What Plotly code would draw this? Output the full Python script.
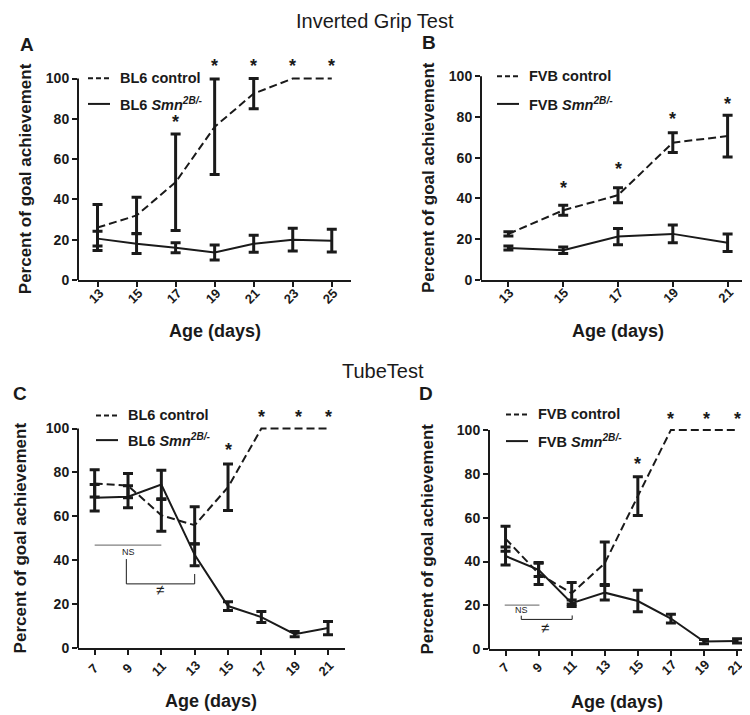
import plotly.graph_objects as go

W, H = 750, 715
FONT = "Liberation Sans, Arial, Helvetica, sans-serif"
INK = "#1a1a1a"

# ---------------- data ----------------
# A: Inverted grip test, BL6
a_days = [13, 15, 17, 19, 21, 23, 25]
a_ctrl = [26.0, 32.0, 48.5, 76.0, 92.5, 100, 100]
a_ctrl_err = [11.4, 9.0, 24.0, 23.7, 7.5, 0, 0]
a_ko = [20.5, 18.0, 16.0, 13.6, 18.0, 20.0, 19.5]
a_ko_err = [3.7, 4.9, 2.5, 3.7, 4.2, 5.7, 5.6]
a_star_x = [17, 19, 21, 23, 25]
a_star_y = [77.0, 104.7, 104.7, 104.7, 104.7]

# B: Inverted grip test, FVB
b_days = [13, 15, 17, 19, 21]
b_ctrl = [22.6, 34.2, 41.6, 67.4, 70.6]
b_ctrl_err = [1.0, 2.4, 3.7, 4.8, 10.2]
b_ko = [15.7, 14.6, 21.3, 22.6, 18.3]
b_ko_err = [1.0, 1.6, 4.0, 4.3, 4.3]
b_star_x = [15, 17, 19, 21]
b_star_y = [43.7, 53.1, 77.7, 85.0]

# C: Tube test, BL6
c_days = [7, 9, 11, 13, 15, 17, 19, 21]
c_ctrl = [75.0, 74.0, 60.5, 56.0, 73.3, 100, 100, 100]
c_ctrl_err = [6.2, 5.5, 7.2, 8.4, 10.6, 0, 0, 0]
c_ko = [68.5, 69.0, 74.5, 42.5, 19.2, 14.2, 6.4, 9.2]
c_ko_err = [6.0, 5.0, 6.5, 5.0, 2.0, 2.5, 1.2, 3.0]
c_star_x = [15, 17, 19.2, 21]
c_star_y = [88.9, 103.9, 103.9, 103.9]

# D: Tube test, FVB
d_days = [7, 9, 11, 13, 15, 17, 19, 21]
d_ctrl = [50.4, 34.5, 25.5, 39.2, 69.8, 100, 100, 100]
d_ctrl_err = [5.7, 5.0, 4.9, 9.7, 8.8, 0, 0, 0]
d_ko = [42.5, 36.2, 21.0, 25.8, 22.0, 14.0, 3.5, 3.8]
d_ko_err = [4.1, 3.0, 1.5, 3.3, 4.9, 2.0, 1.0, 1.0]
d_star_x = [15, 17, 19.15, 21]
d_star_y = [83.2, 103.5, 103.5, 103.5]

# significance brackets (C, D)
c_ns_x, c_ns_y = [7, 11], [46.9, 46.9]
c_br_x, c_br_y = [8.9, 8.9, 13, 13], [40.6, 29.3, 29.3, 33.8]
c_ns_lab = (9.0, 43.6)
c_neq_lab = (10.9, 26.6)
d_ns_x, d_ns_y = [6.95, 9.05], [20.1, 20.1]
d_br_x, d_br_y = [7.95, 7.95, 11.03, 11.03], [15.3, 13.6, 13.6, 15.4]
d_ns_lab = (7.95, 18.0)
d_neq_lab = (9.4, 9.8)

y_ticks = [0, 20, 40, 60, 80, 100]

panels = [
    dict(days=a_days, ctrl=a_ctrl, ce=a_ctrl_err, ko=a_ko, ke=a_ko_err,
         sx=a_star_x, sy=a_star_y, strain="BL6", letter="A"),
    dict(days=b_days, ctrl=b_ctrl, ce=b_ctrl_err, ko=b_ko, ke=b_ko_err,
         sx=b_star_x, sy=b_star_y, strain="FVB", letter="B"),
    dict(days=c_days, ctrl=c_ctrl, ce=c_ctrl_err, ko=c_ko, ke=c_ko_err,
         sx=c_star_x, sy=c_star_y, strain="BL6", letter="C"),
    dict(days=d_days, ctrl=d_ctrl, ce=d_ctrl_err, ko=d_ko, ke=d_ko_err,
         sx=d_star_x, sy=d_star_y, strain="FVB", letter="D"),
]

# ---------------- layout geometry (pixels) ----------------
# left px, right px, y=0 px, y=100 px, x-range
boxes = [
    (70, 343.3, 275.0, 71.3, 12, 26),
    (473, 747, 275.0, 69.0, 12, 22),
    (70, 336.7, 647.5, 425.3, 6, 22),
    (481, 736.5, 648.5, 426.7, 6, 21.45),
]
YMAX = 112
letter_pos = [(19, 37), (421, 35), (12, 390), (418, 390)]
legend_pos = [(80, 71, 97), (489, 69, 97), (88, 412, 437), (498, 411, 438)]
ytitle_x = [17, 420, 12, 420]
xtitle_y = [327, 327, 701, 702]
ticklab_dy = [16.5, 16, 20.5, 18.5]   # px below the x axis (label centre)

fig = go.Figure()
layout = dict(width=W, height=H, autosize=False,
              margin=dict(l=0, r=0, t=0, b=0),
              paper_bgcolor="white", plot_bgcolor="white",
              showlegend=False, font=dict(family=FONT, color=INK))
shapes, annotations = [], []


def px_x(p):
    return p / W


def px_y(p):
    return 1 - p / H


for i, (p, box) in enumerate(zip(panels, boxes)):
    n = i + 1
    xa = "x" if n == 1 else f"x{n}"
    ya = "y" if n == 1 else f"y{n}"
    xl, xr, y0, y100, xmin, xmax = box
    ytop = y0 - (y0 - y100) * YMAX / 100
    layout["xaxis" if n == 1 else f"xaxis{n}"] = dict(
        domain=[px_x(xl), px_x(xr)], range=[xmin, xmax], anchor=ya,
        tickmode="array", tickvals=p["days"], showticklabels=False,
        ticks="outside", ticklen=5, tickwidth=2,
        tickcolor=INK, showline=True, linewidth=2, linecolor=INK,
        showgrid=False, zeroline=False)
    layout["yaxis" if n == 1 else f"yaxis{n}"] = dict(
        domain=[px_y(y0), px_y(ytop)], range=[0, YMAX], anchor=xa,
        tickmode="array",
        tickvals=y_ticks, ticks="outside", ticklen=5, tickwidth=2,
        tickcolor=INK, showline=False, showgrid=False, zeroline=False,
        tickfont=dict(family=FONT, size=14, color=INK, weight="bold"))
    # y axis line from 0 to 100
    shapes.append(dict(type="line", xref=f"{xa} domain", x0=0, x1=0,
                       yref=ya, y0=0, y1=100,
                       line=dict(color=INK, width=2)))
    # rotated x tick labels
    for d in p["days"]:
        lab = str(d)
        annotations.append(dict(x=d, y=0, xref=xa, yref=ya, text=f"<b>{lab}</b>",
                                textangle=-45, showarrow=False,
                                xanchor="center", yanchor="middle",
                                xshift=-2 if len(lab) > 1 else -1,
                                yshift=-ticklab_dy[i],
                                font=dict(family=FONT, size=13, color=INK)))

    # lines
    fig.add_trace(go.Scatter(x=p["days"], y=p["ctrl"], mode="lines",
                             line=dict(color=INK, width=2, dash="8px,4px"),
                             xaxis=xa, yaxis=ya, hoverinfo="skip"))
    fig.add_trace(go.Scatter(x=p["days"], y=p["ko"], mode="lines",
                             line=dict(color=INK, width=2),
                             xaxis=xa, yaxis=ya, hoverinfo="skip"))
    # error bars (only where an error is shown)
    for ys, es in ((p["ctrl"], p["ce"]), (p["ko"], p["ke"])):
        idx = [k for k, e in enumerate(es) if e > 0]
        fig.add_trace(go.Scatter(
            x=[p["days"][k] for k in idx], y=[ys[k] for k in idx],
            mode="markers", marker=dict(size=1, color=INK),
            error_y=dict(type="data", array=[es[k] for k in idx],
                         visible=True, color=INK, thickness=3, width=5),
            xaxis=xa, yaxis=ya, hoverinfo="skip"))
    # stars
    for sx, sy in zip(p["sx"], p["sy"]):
        annotations.append(dict(x=sx, y=sy, xref=xa, yref=ya, text="<b>*</b>",
                                showarrow=False, yanchor="middle",
                                yshift=3,
                                font=dict(family=FONT, size=18, color=INK)))
    # panel letter
    lx, ly = letter_pos[i]
    annotations.append(dict(x=px_x(lx), y=px_y(ly), xref="paper", yref="paper",
                            text=f"<b>{p['letter']}</b>", showarrow=False,
                            xanchor="center", yanchor="middle",
                            font=dict(family=FONT, size=19, color=INK)))
    # legend
    gx, gy1, gy2 = legend_pos[i]
    shapes.append(dict(type="line", xref="paper", yref="paper",
                       x0=px_x(gx), x1=px_x(gx + 22), y0=px_y(gy1), y1=px_y(gy1),
                       line=dict(color=INK, width=2, dash="5px,3px")))
    shapes.append(dict(type="line", xref="paper", yref="paper",
                       x0=px_x(gx), x1=px_x(gx + 22), y0=px_y(gy2), y1=px_y(gy2),
                       line=dict(color=INK, width=2)))
    annotations.append(dict(x=px_x(gx + 30), y=px_y(gy1), xref="paper", yref="paper",
                            text=f"<b>{p['strain']} control</b>", showarrow=False,
                            xanchor="left", yanchor="middle",
                            font=dict(family=FONT, size=14.5, color=INK)))
    annotations.append(dict(x=px_x(gx + 30), y=px_y(gy2), xref="paper", yref="paper",
                            text=f"<b>{p['strain']} <i>Smn</i><sup><i>2B/-</i></sup></b>",
                            showarrow=False, xanchor="left", yanchor="middle",
                            font=dict(family=FONT, size=14.5, color=INK)))
    # axis titles
    annotations.append(dict(x=px_x(ytitle_x[i]), y=px_y((y0 + y100) / 2),
                            xref="paper", yref="paper", textangle=-90,
                            text="<b>Percent of goal achievement</b>", showarrow=False,
                            xanchor="center", yanchor="middle",
                            font=dict(family=FONT, size=17, color=INK)))
    annotations.append(dict(x=px_x((xl + xr) / 2), y=px_y(xtitle_y[i]),
                            xref="paper", yref="paper",
                            text="<b>Age (days)</b>", showarrow=False,
                            xanchor="center", yanchor="middle",
                            font=dict(family=FONT, size=18, color=INK)))

# significance brackets
for xa, ya, nsx, nsy, brx, bry, nsl, neq in (
        ("x3", "y3", c_ns_x, c_ns_y, c_br_x, c_br_y, c_ns_lab, c_neq_lab),
        ("x4", "y4", d_ns_x, d_ns_y, d_br_x, d_br_y, d_ns_lab, d_neq_lab)):
    fig.add_trace(go.Scatter(x=nsx, y=nsy, mode="lines",
                             line=dict(color="#808080", width=1.3),
                             xaxis=xa, yaxis=ya, hoverinfo="skip"))
    fig.add_trace(go.Scatter(x=brx, y=bry, mode="lines",
                             line=dict(color=INK, width=1),
                             xaxis=xa, yaxis=ya, hoverinfo="skip"))
    annotations.append(dict(x=nsl[0], y=nsl[1], xref=xa, yref=ya, text="NS",
                            showarrow=False, font=dict(family=FONT, size=9, color=INK)))
    annotations.append(dict(x=neq[0], y=neq[1], xref=xa, yref=ya, text="≠",
                            showarrow=False, font=dict(family=FONT, size=15, color=INK)))

# section titles
annotations.append(dict(x=px_x(367), y=px_y(13), xref="paper", yref="paper",
                        text="Inverted Grip Test", showarrow=False,
                        xanchor="center", yanchor="middle",
                        font=dict(family=FONT, size=20, color=INK)))
annotations.append(dict(x=px_x(375), y=px_y(367), xref="paper", yref="paper",
                        text="TubeTest", showarrow=False,
                        xanchor="center", yanchor="middle",
                        font=dict(family=FONT, size=20, color=INK)))

layout["shapes"] = shapes
layout["annotations"] = annotations
fig.update_layout(**layout)
fig.write_html("out.html")
